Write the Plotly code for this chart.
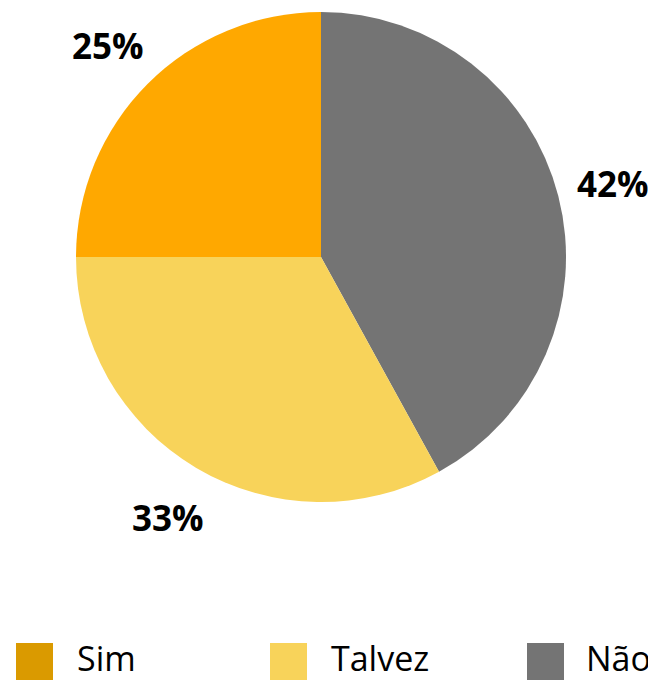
import math
import plotly.graph_objects as go

categories = ["Sim", "Talvez", "Não"]
values = [25, 33, 42]
slice_colors = ["#FFA800", "#F8D35A", "#747474"]
legend_colors = ["#DA9A00", "#F8D35A", "#747474"]

# page has an 8px body margin, so the figure is drawn 8px smaller and all
# positions below are page positions minus 8
OFF = 8
W, H = 656 - OFF, 682 - OFF
cx, cy, r = 321 - OFF, 257 - OFF, 245
label_r = 301

pie_labels = categories[::-1]
pie_values = values[::-1]

fig = go.Figure()
fig.add_trace(go.Pie(
    labels=pie_labels,
    values=pie_values,
    sort=False,
    direction="clockwise",
    marker=dict(colors=slice_colors[::-1], line=dict(width=0)),
    textinfo="none",
    hoverinfo="label+percent",
    showlegend=False,
    domain=dict(x=[(cx - r) / W, (cx + r) / W], y=[1 - (cy + r) / H, 1 - (cy - r) / H]),
))

annotations, shapes = [], []

# percentage labels placed outside each slice at its mid-angle
total = sum(pie_values)
cum = 0
for lab, v in zip(pie_labels, pie_values):
    mid = (cum + v / 2) / total * 2 * math.pi  # clockwise from 12 o'clock
    cum += v
    px = cx + label_r * math.sin(mid)
    py = cy - label_r * math.cos(mid) + 1
    annotations.append(dict(xref="paper", yref="paper", x=px / W, y=1 - py / H,
                            xanchor="center", yanchor="middle", showarrow=False,
                            text=f"{round(v / total * 100)}%",
                            font=dict(family="Open Sans", size=35, color="black", weight="bold")))

# legend drawn as shapes + text
sq_x = [16 - OFF, 270 - OFF, 527 - OFF]
txt_x = [76 - OFF, 330 - OFF, 585 - OFF]
sq_y0, sq_y1 = 643 - OFF, 680 - OFF
for i, cat in enumerate(categories):
    shapes.append(dict(type="rect", xref="paper", yref="paper",
                       x0=sq_x[i] / W, x1=(sq_x[i] + 37) / W,
                       y0=1 - sq_y1 / H, y1=1 - sq_y0 / H,
                       fillcolor=legend_colors[i], line=dict(width=0)))
    annotations.append(dict(xref="paper", yref="paper", x=txt_x[i] / W, y=0,
                            xanchor="left", yanchor="bottom", showarrow=False, text=cat,
                            borderpad=0,
                            font=dict(family="Open Sans", size=34, color="black")))

fig.update_layout(
    width=W, height=H,
    margin=dict(l=0, r=0, t=0, b=0),
    paper_bgcolor="white", plot_bgcolor="white",
    shapes=shapes, annotations=annotations,
)
fig.write_html("out.html")
